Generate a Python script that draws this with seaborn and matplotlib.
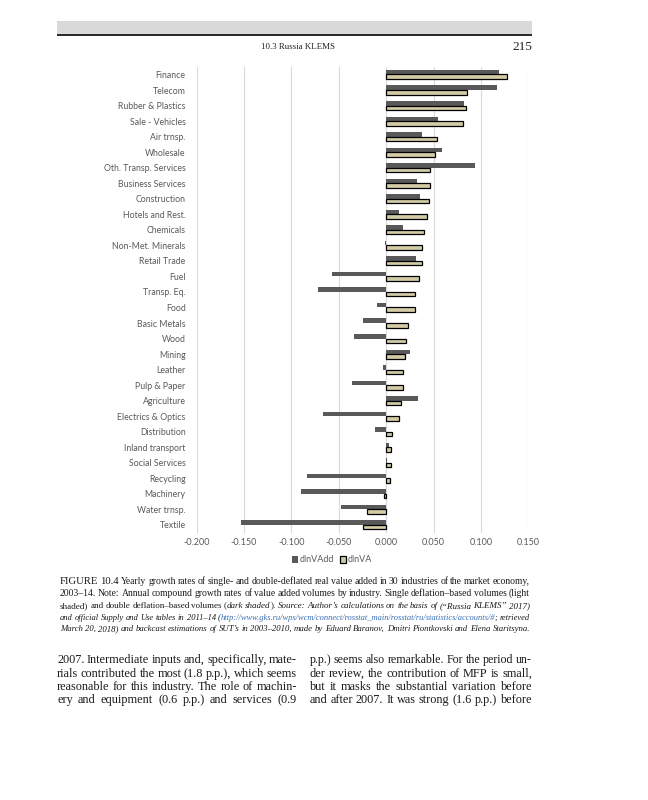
import numpy as np
import pandas as pd
import seaborn as sns
import matplotlib
matplotlib.use("Agg")
from matplotlib import pyplot as plt
from matplotlib.patches import Patch, Rectangle
from matplotlib.transforms import IdentityTransform

industries = ["Finance", "Telecom", "Rubber & Plastics", "Sale - Vehicles", "Air trnsp.",
              "Wholesale", "Oth. Transp. Services", "Business Services", "Construction",
              "Hotels and Rest.", "Chemicals", "Non-Met. Minerals", "Retail Trade", "Fuel",
              "Transp. Eq.", "Food", "Basic Metals", "Wood", "Mining", "Leather",
              "Pulp & Paper", "Agriculture", "Electrics & Optics", "Distribution",
              "Inland transport", "Social Services", "Recycling", "Machinery",
              "Water trnsp.", "Textile"]
dlnVAdd = [0.119, 0.117, 0.082, 0.055, 0.038, 0.059, 0.094, 0.032, 0.036, 0.013,
           0.018, -0.001, 0.031, -0.057, -0.072, -0.010, -0.024, -0.034, 0.025, -0.003,
           -0.036, 0.034, -0.067, -0.012, 0.003, 0.001, -0.084, -0.090, -0.048, -0.153]
dlnVA = [0.128, 0.085, 0.084, 0.081, 0.054, 0.051, 0.046, 0.046, 0.045, 0.043,
         0.040, 0.038, 0.038, 0.035, 0.030, 0.030, 0.023, 0.021, 0.020, 0.018,
         0.018, 0.016, 0.013, 0.006, 0.005, 0.005, 0.004, -0.002, -0.020, -0.024]
series_names = ["dlnVAdd", "dlnVA"]
xticks = [-0.200, -0.150, -0.100, -0.050, 0.000, 0.050, 0.100, 0.150]

header_title = "10.3 Russia KLEMS"
page_number = "215"

caption_lines = [
    [("FIGURE 10.4", "b"), ("  Yearly growth rates of single- and double-deflated real value added in 30 industries of the market economy,", "r")],
    [("2003\u201314. Note: Annual compound growth rates of value added volumes by industry. Single deflation\u2013based volumes (light", "r")],
    [("shaded) and double deflation\u2013based volumes (", "r"), ("dark shaded", "i"), ("). ", "r"),
     ("Source: Author\u2019s calculations on the basis of (\u201cRussia KLEMS\u201d 2017)", "i")],
    [("and official Supply and Use tables in 2011\u201314 (", "i"),
     ("http://www.gks.ru/wps/wcm/connect/rosstat_main/rosstat/ru/statistics/accounts/#", "l"),
     ("; retrieved", "i")],
    [("March 20, 2018) and backcast estimations of SUT\u2019s in 2003\u20132010, made by Eduard Baranov, Dmitri Piontkovski and Elena Staritsyna.", "i")],
]
body_left = ["2007. Intermediate inputs and, specifically, mate-",
             "rials contributed the most (1.8 p.p.), which seems",
             "reasonable for this industry. The role of machin-",
             "ery and equipment (0.6 p.p.) and services (0.9"]
body_right = ["p.p.) seems also remarkable. For the period un-",
              "der review, the contribution of MFP is small,",
              "but it masks the substantial variation before",
              "and after 2007. It was strong (1.6 p.p.) before"]

W, H = 648, 800
DARK = "#595959"
LIGHT = "#d3cba6"
TXT = "#595959"
SERIF = ["Liberation Serif", "DejaVu Serif"]

sns.set_style("white")
plt.rcParams["font.family"] = ["Lato", "DejaVu Sans"]
plt.rcParams["axes.unicode_minus"] = False

df = pd.DataFrame({
    "industry": industries * 2,
    "value": dlnVAdd + dlnVA,
    "series": [series_names[0]] * len(industries) + [series_names[1]] * len(industries),
})

fig = plt.figure(figsize=(W / 100, H / 100), dpi=100)
ax = fig.add_axes([196.7 / W, 1 - 532.7 / H, (528.3 - 196.7) / W, (532.7 - 66.7) / H])

sns.barplot(data=df, x="value", y="industry", hue="series", orient="h",
            palette=[DARK, LIGHT], width=0.58, ax=ax, legend=False, saturation=1)
for p in ax.containers[0]:
    p.set_edgecolor("none")
for p in ax.containers[1]:
    p.set_edgecolor("black")
    p.set_linewidth(0.9)

ax.set_xlim(-0.2, 0.15)
ax.set_xticks(xticks)
ax.xaxis.set_major_formatter(plt.FuncFormatter(lambda v, _: f"{v:.3f}"))
ax.set_xlabel("")
ax.set_ylabel("")
ax.grid(axis="x", color="#d9d9d9", lw=0.8)
ax.set_axisbelow(True)
sns.despine(ax=ax, left=True, bottom=True)
ax.tick_params(axis="x", length=0, colors=TXT, labelsize=6.5, pad=4)
ax.tick_params(axis="y", length=0, colors=TXT, labelsize=6.3, pad=8)

handles = [Patch(facecolor=DARK, edgecolor="none"),
           Patch(facecolor=LIGHT, edgecolor="black", linewidth=0.9)]
fig.legend(handles, series_names, loc="center", bbox_to_anchor=(332 / W, 1 - 560 / H),
           ncol=2, frameon=False, fontsize=6.5, handlelength=0.7, handleheight=0.7,
           handletextpad=0.2, columnspacing=0.6, labelcolor=TXT)

# page furniture
fig.patches.append(Rectangle((57, H - 34), 475, 13, transform=IdentityTransform(),
                             facecolor="#d9d9d9", edgecolor="none"))
fig.patches.append(Rectangle((57, H - 35.5), 475, 1.6, transform=IdentityTransform(),
                             facecolor="#2b2b2b", edgecolor="none"))
fig.text(298, H - 49, header_title, transform=IdentityTransform(), ha="center",
         va="baseline", family=SERIF, fontsize=6.4, color="#222222")
fig.text(532, H - 50, page_number, transform=IdentityTransform(), ha="right",
         va="baseline", family=SERIF, fontsize=9.5, color="#222222")

renderer = fig.canvas.get_renderer()
STYLES = {"r": {}, "i": {"style": "italic"}, "b": {"fontsize_add": 0.8},
          "l": {"style": "italic", "color": "#3a6fb5"}}


def _kw(st, size):
    kw = dict(STYLES[st])
    add = kw.pop("fontsize_add", 0)
    kw.setdefault("color", "#1a1a1a")
    kw["fontsize"] = size + add
    kw["family"] = SERIF
    return kw


def _width(s, kw):
    t = fig.text(0, 0, s, **kw)
    w = t.get_window_extent(renderer).width
    t.remove()
    return w


def _tokens(segs):
    toks = [[]]
    for txt, st in segs:
        parts = txt.split(" ")
        for i, p in enumerate(parts):
            if i > 0:
                toks.append([])
            if p:
                toks[-1].append((p, st))
    return [t for t in toks if t]


def put_line(segs, x0, x1, y, size, justify=True):
    toks = _tokens(segs)
    n = len(toks)

    def measure(sz):
        ws = [[_width(p, _kw(st, sz)) for p, st in t] for t in toks]
        sp = _width("a a", _kw("r", sz)) - _width("aa", _kw("r", sz))
        return ws, sum(sum(w) for w in ws), sp

    widths, total, space = measure(size)
    natural = total + (n - 1) * space * 0.8
    if natural > x1 - x0:
        size *= (x1 - x0) / natural
        widths, total, space = measure(size)
    gap = space
    if justify and n > 1:
        gap = (x1 - x0 - total) / (n - 1)
    x = x0
    for t, ws in zip(toks, widths):
        for (p, st), w in zip(t, ws):
            fig.text(x, H - y, p, transform=IdentityTransform(), va="baseline",
                     **_kw(st, size))
            x += w
        x += gap


for line, y in zip(caption_lines, [584, 596, 608, 620, 631]):
    put_line(line, 60, 530, y, 7.1)

for i, y in enumerate([663, 677, 690, 703]):
    put_line([(body_left[i], "r")], 57, 297, y, 8.8)
    put_line([(body_right[i], "r")], 309.5, 532, y, 8.8)

fig.savefig("out.png", dpi=100)
